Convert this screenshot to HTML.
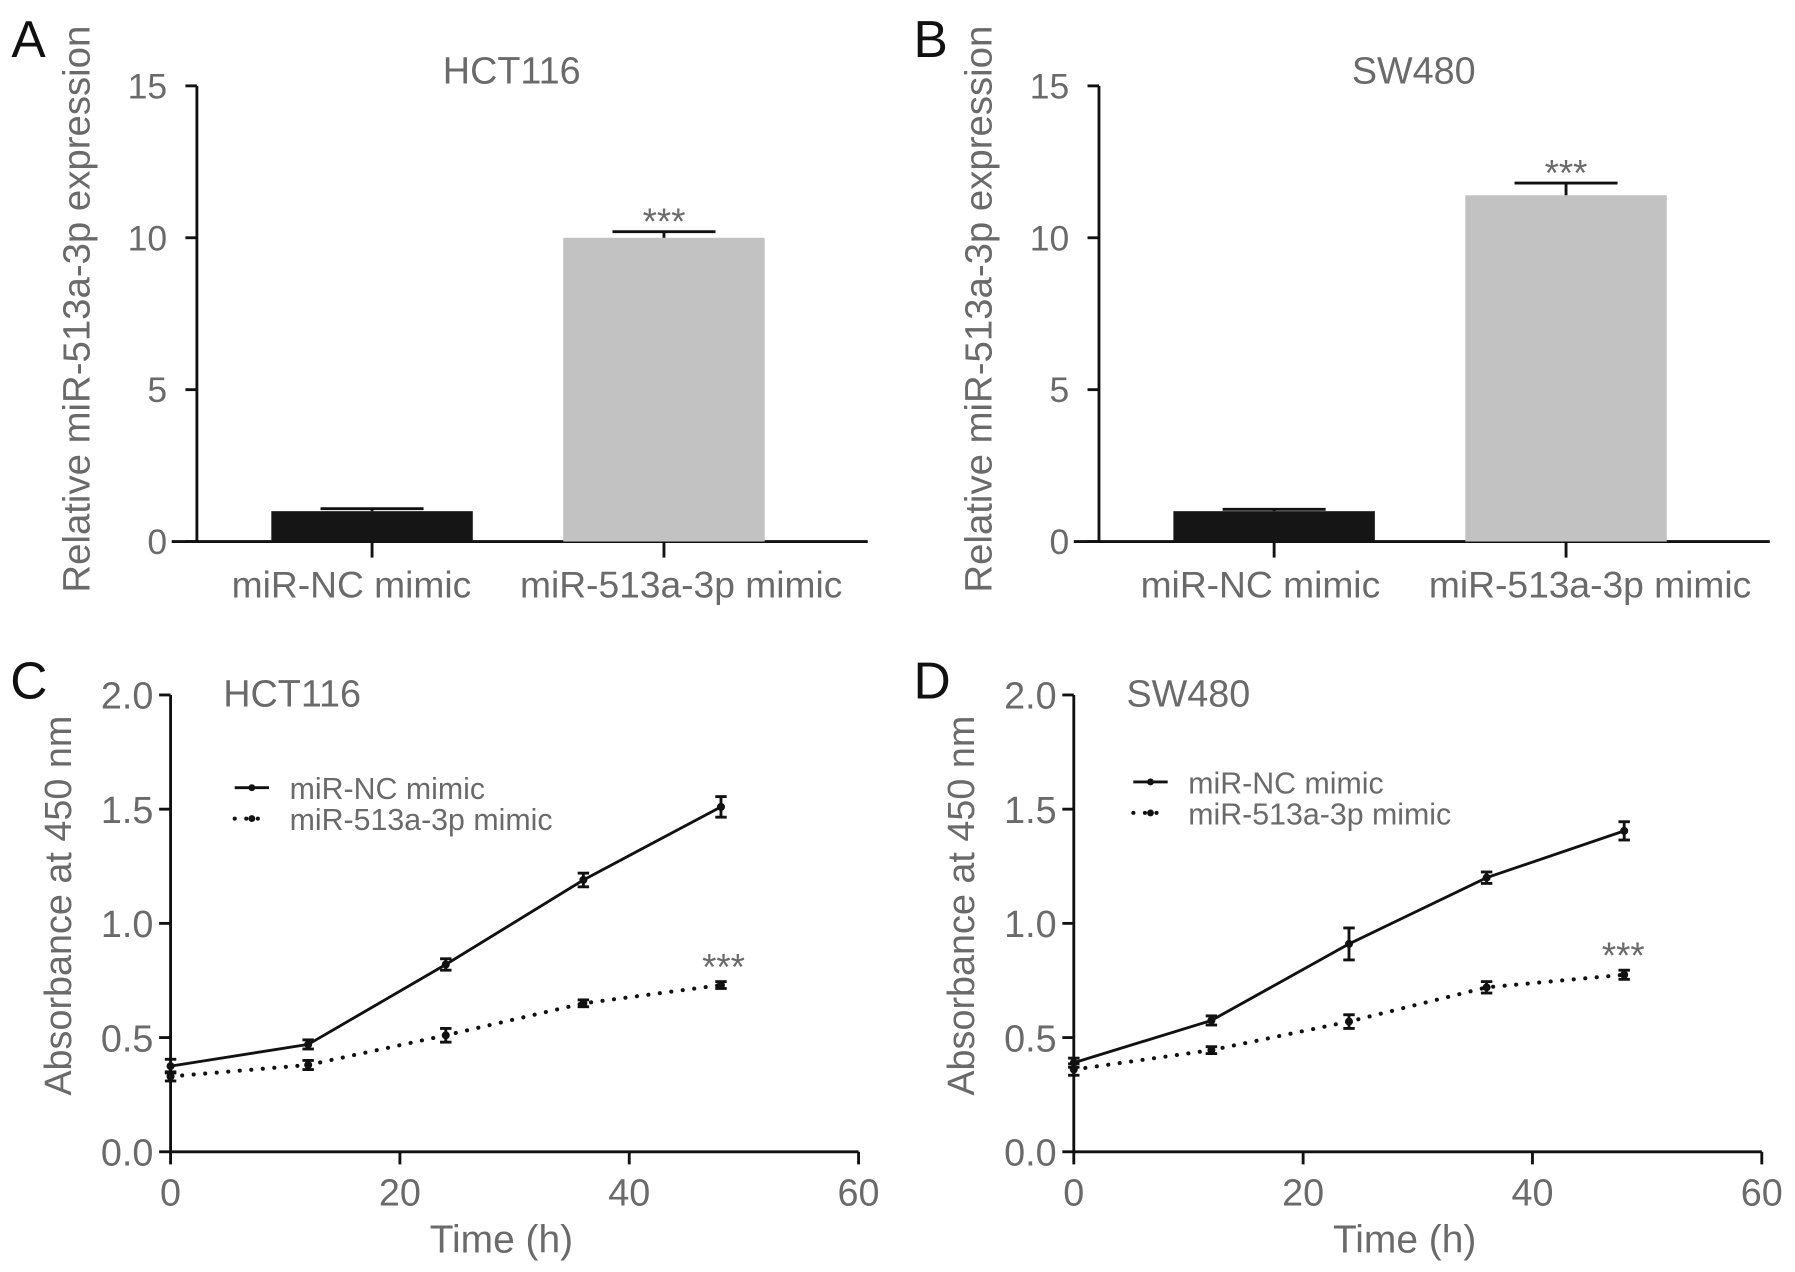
<!DOCTYPE html>
<html><head><meta charset="utf-8"><style>
html,body{margin:0;padding:0;background:#fff;}
svg{display:block;}
text{font-family:"Liberation Sans",Arial,sans-serif;}
</style></head><body>
<svg id="fig" width="1795" height="1272" viewBox="0 0 1568 1111" preserveAspectRatio="none" xmlns="http://www.w3.org/2000/svg"></svg>
<script>
const barCategories = ["miR-NC mimic", "miR-513a-3p mimic"];
const barValuesA = [1.0, 10.0];
const barErrA = [0.08, 0.2];
const barValuesB = [1.0, 11.4];
const barErrB = [0.06, 0.4];
const barTicks = [0, 5, 10, 15];
const timePoints = [0, 12, 24, 36, 48];
const ncC = [0.375, 0.47, 0.82, 1.19, 1.51];
const ncErrC = [0.03, 0.02, 0.025, 0.03, 0.045];
const mimicC = [0.33, 0.38, 0.51, 0.65, 0.73];
const mimicErrC = [0.02, 0.02, 0.03, 0.015, 0.015];
const ncD = [0.39, 0.575, 0.91, 1.2, 1.405];
const ncErrD = [0.02, 0.02, 0.07, 0.025, 0.04];
const mimicD = [0.36, 0.445, 0.57, 0.72, 0.775];
const mimicErrD = [0.025, 0.015, 0.03, 0.025, 0.02];
const lineYTicks = [0, 0.5, 1.0, 1.5, 2.0];
const lineXTicks = [0, 20, 40, 60];

const NS = "http://www.w3.org/2000/svg";
const svg = document.getElementById("fig");
function mk(tag, attrs, parent, txt) {
  const e = document.createElementNS(NS, tag);
  for (const k in attrs) e.setAttribute(k, attrs[k]);
  if (txt !== undefined) e.textContent = txt;
  (parent || svg).appendChild(e);
  return e;
}
const GRAY = "#6a6a6a";

function barPanel(ox, letter, title, vals, errs, name, lblShift) {
  const g = mk("g", {});
  
  
  const ax = 172 + ox, y0 = 473, yTop = 75;
  const ys = v => y0 - (v / 15) * (y0 - yTop);
  let t = mk("text", {x: 10 + ox, y: 50, "font-size": 45, fill: "#111"}, g, letter);
  
  
  t = mk("text", {x: 447 + ox, y: 73, "font-size": 33, fill: GRAY, "text-anchor": "middle"}, g, title);
  
  
  t = mk("text", {x: 0, y: 0, "font-size": 33.5, fill: GRAY, "text-anchor": "middle", transform: `translate(${78 + ox},270) rotate(-90)`}, g, "Relative miR-513a-3p expression");
  
  
  let l = mk("line", {x1: ax, y1: yTop, x2: ax, y2: y0 + 1, stroke: "#111", "stroke-width": 2.5}, g);
  
  
  l = mk("line", {x1: 150 + ox, y1: y0, x2: 758 + ox, y2: y0, stroke: "#111", "stroke-width": 2.5}, g);
  
  
  barTicks.forEach(v => {
    const y = ys(v);
    mk("line", {x1: ax - 10, y1: y, x2: ax, y2: y, stroke: "#111", "stroke-width": 2.5}, g);
    const tt = mk("text", {x: ax - 26, y: y + 11, "font-size": 31, fill: GRAY, "text-anchor": "end"}, g, String(v));
    
    
  });
  const centers = [325 + ox, 580 + ox], labelC = [307 + ox + lblShift, 595 + ox + lblShift];
  const colors = ["#151515", "#c2c2c2"];
  vals.forEach((v, i) => {
    const cx = centers[i];
    const r = mk("rect", {x: cx - 88, y: ys(v), width: 176, height: y0 - ys(v), fill: colors[i]}, g);
    
    
    const ye = ys(v + errs[i]);
    mk("line", {x1: cx, y1: ys(v), x2: cx, y2: ye, stroke: "#111", "stroke-width": 2.5}, g);
    mk("line", {x1: cx - 45, y1: ye, x2: cx + 45, y2: ye, stroke: "#111", "stroke-width": 2.5}, g);
    mk("line", {x1: cx, y1: y0, x2: cx, y2: y0 + 14, stroke: "#111", "stroke-width": 2.5}, g);
    const ct = mk("text", {x: labelC[i], y: 522, "font-size": 32.5, fill: GRAY, "text-anchor": "middle"}, g, barCategories[i]);
    
    
    if (i === 1) {
      const st = mk("text", {x: cx, y: ye + 2, "font-size": 32, fill: GRAY, "text-anchor": "middle"}, g, "***");
      
      
    }
  });
}

function linePanel(ax, letter, title, nc, ncE, mi, miE, name, lx, stX, leg) {
  const g = mk("g", {});
  
  
  const y0 = 1006, yTop = 607, xEnd = ax + 601;
  const xs = v => ax + (v / 60) * (xEnd - ax);
  const ys = v => y0 - (v / 2) * (y0 - yTop);
  let t = mk("text", {x: ax - 140, y: 610, "font-size": 45, fill: "#111"}, g, letter);
  
  
  t = mk("text", {x: ax + 46, y: 617, "font-size": 33, fill: GRAY}, g, title);
  
  
  t = mk("text", {x: 0, y: 0, "font-size": 33, fill: GRAY, "text-anchor": "middle", transform: `translate(${ax - 87},791) rotate(-90)`}, g, "Absorbance at 450 nm");
  
  
  t = mk("text", {x: ax + 289, y: 1094, "font-size": 34, fill: GRAY, "text-anchor": "middle"}, g, "Time (h)");
  
  
  let l = mk("line", {x1: ax, y1: yTop, x2: ax, y2: y0 + 1, stroke: "#111", "stroke-width": 2.5}, g);
  
  
  l = mk("line", {x1: ax - 1, y1: y0, x2: xEnd, y2: y0, stroke: "#111", "stroke-width": 2.5}, g);
  
  
  lineYTicks.forEach(v => {
    const y = ys(v);
    mk("line", {x1: ax - 10, y1: y, x2: ax, y2: y, stroke: "#111", "stroke-width": 2.5}, g);
    const tt = mk("text", {x: ax - 15, y: y + 12, "font-size": 33, fill: GRAY, "text-anchor": "end"}, g, v.toFixed(1));
    
    
  });
  lineXTicks.forEach(v => {
    const x = xs(v);
    mk("line", {x1: x, y1: y0, x2: x, y2: y0 + 11, stroke: "#111", "stroke-width": 2.5}, g);
    const tt = mk("text", {x: x, y: 1053, "font-size": 33, fill: GRAY, "text-anchor": "middle"}, g, String(v));
    
    
  });
  function series(vals, errs, dashed, sname) {
    const pts = vals.map((v, i) => xs(timePoints[i]) + "," + ys(v)).join(" ");
    const p = mk("polyline", {points: pts, fill: "none", stroke: "#111", "stroke-width": dashed ? 3.5 : 2.5, "stroke-dasharray": dashed ? "0.1 10" : "none", "stroke-linecap": "round"}, g);
    
    
    vals.forEach((v, i) => {
      const x = xs(timePoints[i]), yl = ys(v - errs[i]), yh = ys(v + errs[i]);
      mk("line", {x1: x, y1: yl, x2: x, y2: yh, stroke: "#111", "stroke-width": 2.5}, g);
      mk("line", {x1: x - 5, y1: yl, x2: x + 5, y2: yl, stroke: "#111", "stroke-width": 2.5}, g);
      mk("line", {x1: x - 5, y1: yh, x2: x + 5, y2: yh, stroke: "#111", "stroke-width": 2.5}, g);
      const c = mk("circle", {cx: x, cy: ys(v), r: 3.5, fill: "#111"}, g);
      
      
    });
  }
  series(nc, ncE, false, 'nc');
  series(mi, miE, true, 'mimic');
  const st = mk("text", {x: stX, y: ys(mi[mi.length - 1] + miE[miE.length - 1]) - 2, "font-size": 32, fill: GRAY, "text-anchor": "middle"}, g, "***");
  
  
  const lg = mk("g", {}, g);
  
  
  mk("line", {x1: lx, y1: leg, x2: lx + 30, y2: leg, stroke: "#111", "stroke-width": 2.5}, lg);
  mk("circle", {cx: lx + 15, cy: leg, r: 3, fill: "#111"}, lg);
  let e = mk("text", {x: lx + 48, y: leg + 10, "font-size": 26.5, fill: GRAY}, lg, "miR-NC mimic");
  
  
  mk("line", {x1: lx, y1: leg + 27, x2: lx + 30, y2: leg + 27, stroke: "#111", "stroke-width": 3.5, "stroke-dasharray": "0.1 10", "stroke-linecap": "round"}, lg);
  mk("circle", {cx: lx + 15, cy: leg + 27, r: 3, fill: "#111"}, lg);
  e = mk("text", {x: lx + 48, y: leg + 37, "font-size": 26.5, fill: GRAY}, lg, "miR-513a-3p mimic");
  
  
}

barPanel(0, "A", "HCT116", barValuesA, barErrA, "panel-a-bar-chart", 0);
barPanel(788, "B", "SW480", barValuesB, barErrB, "panel-b-bar-chart", 6);
linePanel(149, "C", "HCT116", ncC, ncErrC, mimicC, mimicErrC, "panel-c-line-chart", 205, 632, 688);
linePanel(938, "D", "SW480", ncD, ncErrD, mimicD, mimicErrD, "panel-d-line-chart", 990, 1418, 683);
</script>
</body></html>
